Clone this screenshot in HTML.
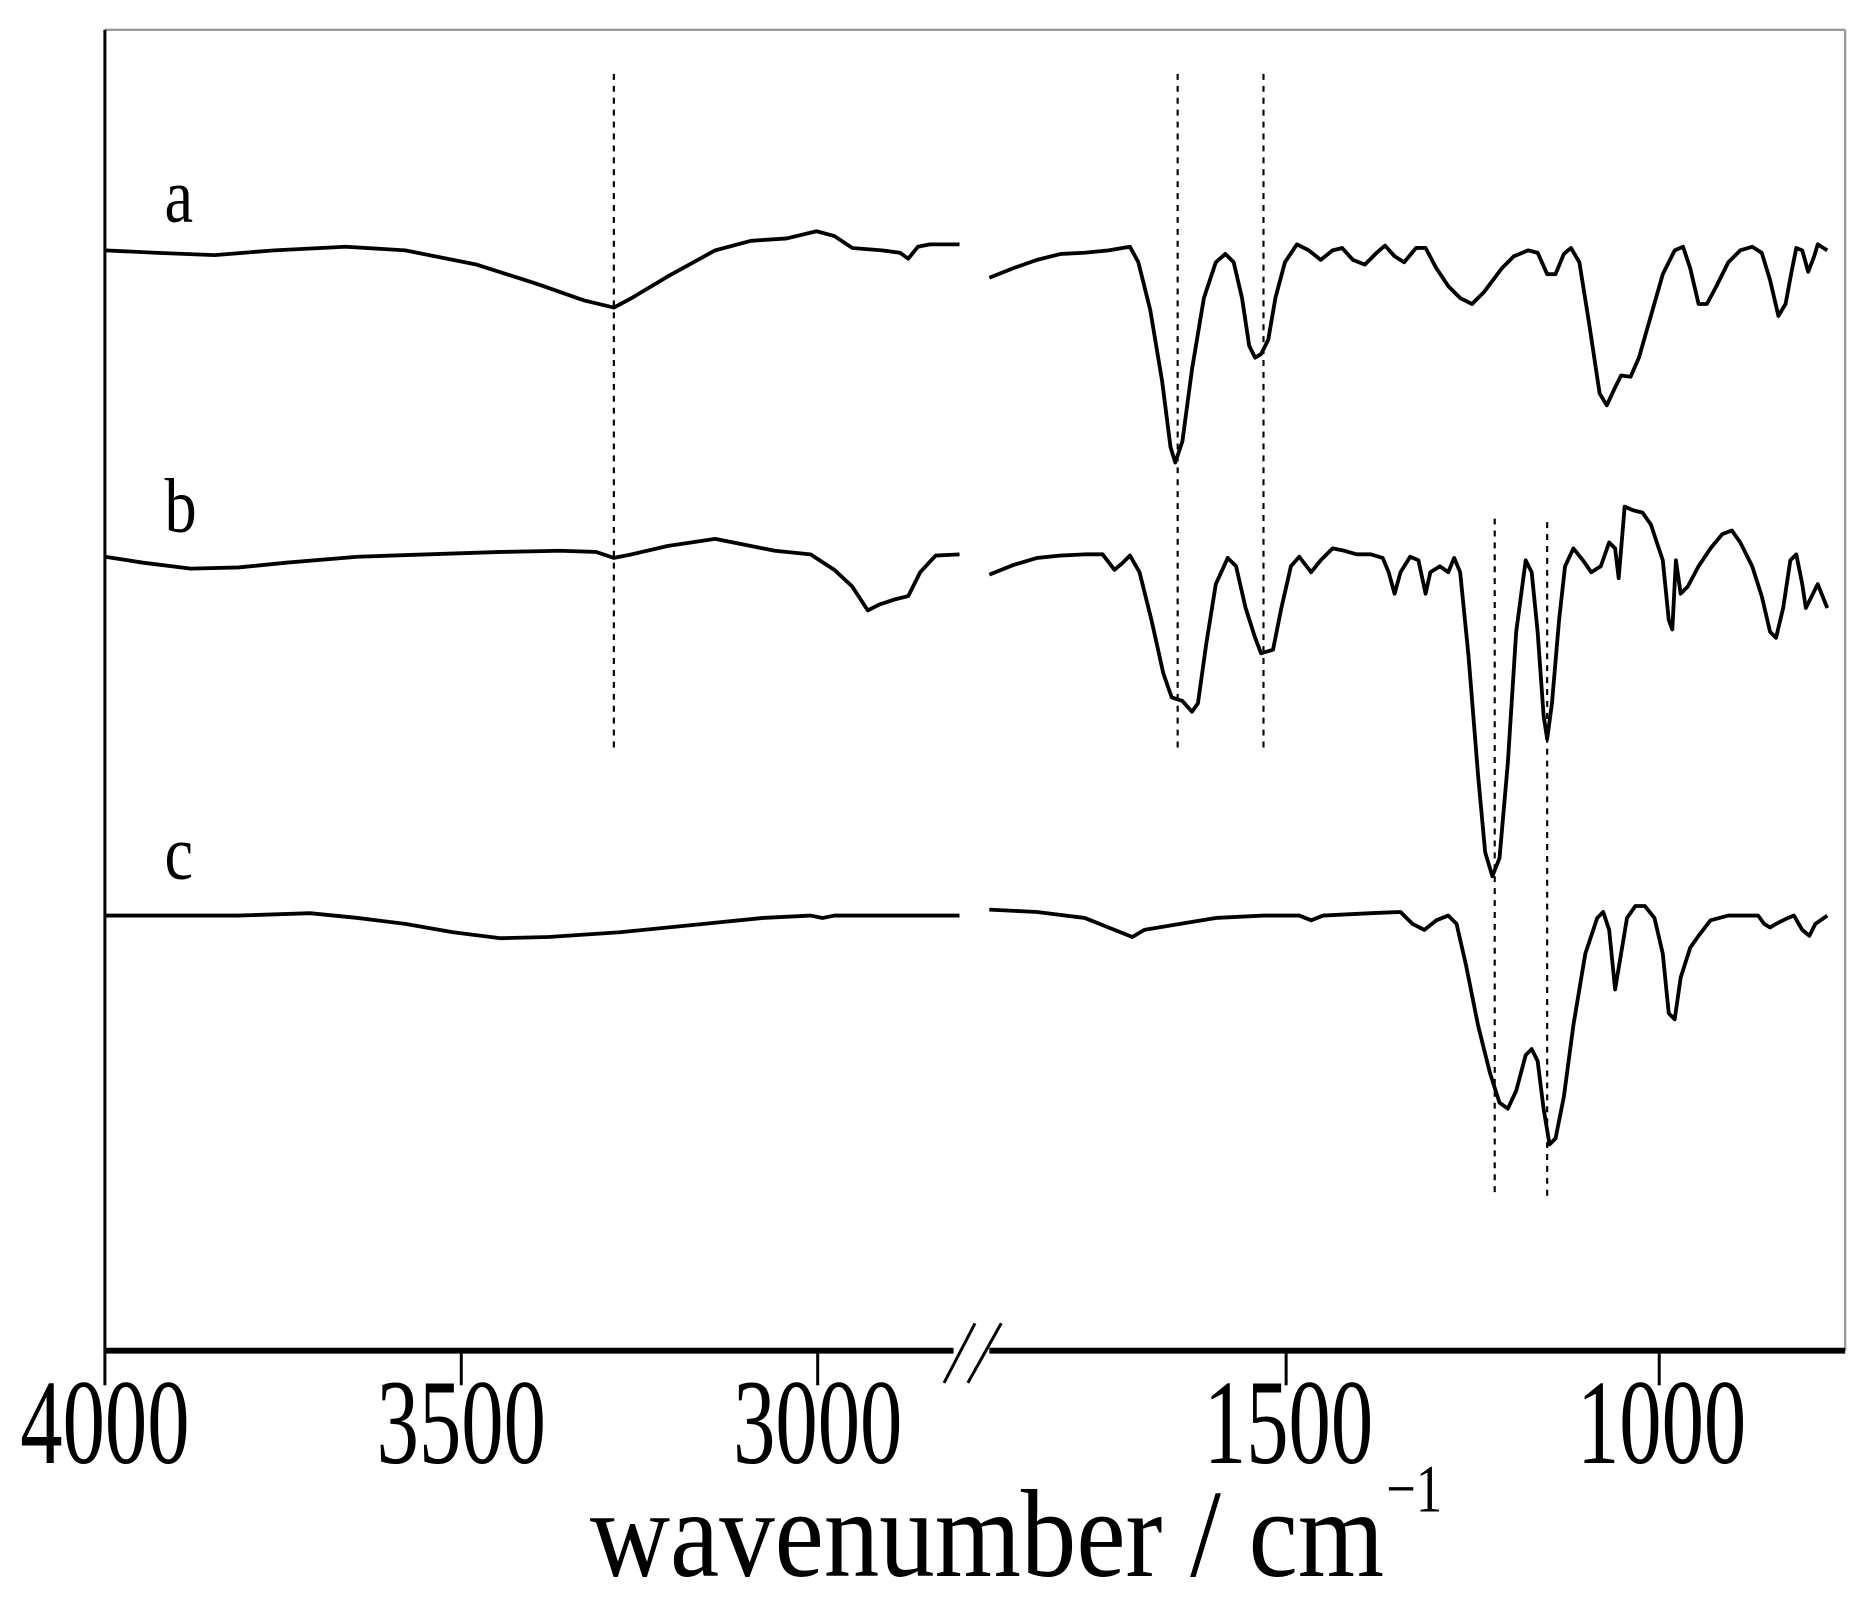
<!DOCTYPE html>
<html><head><meta charset="utf-8"><style>
html,body{margin:0;padding:0;background:#fff;}
svg{display:block;}
text{font-family:"Liberation Serif",serif;fill:#000;}
</style></head><body>
<svg width="1869" height="1607" viewBox="0 0 1568 1348" preserveAspectRatio="none" xmlns="http://www.w3.org/2000/svg">
<rect x="0" y="0" width="1568" height="1348" fill="#fff"/>
<line x1="88" y1="25" x2="1548" y2="25" stroke="#999" stroke-width="2"/>
<line x1="1548" y1="25" x2="1548" y2="1133" stroke="#999" stroke-width="2"/>
<line x1="88" y1="25" x2="88" y2="1135" stroke="#000" stroke-width="2.5"/>
<line x1="88" y1="1133" x2="1548" y2="1133" stroke="#000" stroke-width="5"/>
<rect x="800" y="1120" width="30" height="20" fill="#fff"/>
<line x1="792" y1="1160" x2="818" y2="1110" stroke="#000" stroke-width="2.5"/>
<line x1="812" y1="1160" x2="840" y2="1110" stroke="#000" stroke-width="2.5"/>
<g stroke="#000" stroke-width="2.5">
<line x1="88" y1="1133" x2="88" y2="1162"/>
<line x1="387" y1="1133" x2="387" y2="1162"/>
<line x1="686" y1="1133" x2="686" y2="1162"/>
<line x1="1079" y1="1133" x2="1079" y2="1162"/>
<line x1="1392" y1="1133" x2="1392" y2="1162"/>
</g>
<g font-size="71" text-anchor="middle">
<text transform="translate(88,1227) scale(1,1.43)">4000</text>
<text transform="translate(387,1227) scale(1,1.43)">3500</text>
<text transform="translate(686,1227) scale(1,1.43)">3000</text>
<text transform="translate(1081,1227) scale(1,1.43)">1500</text>
<text transform="translate(1394,1227) scale(1,1.43)">1000</text>
</g>
<text transform="translate(495,1322) scale(1,1.13)" font-size="93">wavenumber / cm</text>
<text transform="translate(1163,1268) scale(1,1.3)" font-size="44">−1</text>
<g font-size="54">
<text transform="translate(138,186) scale(1,1.2)">a</text>
<text transform="translate(138,446) scale(1,1.2)">b</text>
<text transform="translate(138,737) scale(1,1.2)">c</text>
</g>
<g stroke="#000" stroke-width="1.8" stroke-dasharray="5,5">
<line x1="515" y1="62" x2="515" y2="632"/>
<line x1="988" y1="62" x2="988" y2="632"/>
<line x1="1060" y1="62" x2="1060" y2="632"/>
<line x1="1254" y1="435" x2="1254" y2="1005"/>
<line x1="1298" y1="438" x2="1298" y2="1005"/>
</g>
<g fill="none" stroke="#000" stroke-width="3.2" stroke-linejoin="round">
<polyline points="88,210 130,212 180,214 230,210 290,207 340,210 400,222 450,238 490,252 515,258 530,250 560,232 600,210 630,202 660,200 685,194 700,198 715,208 740,210 755,212 762,217 770,207 780,205 805,205"/>
<polyline points="830,233 850,225 870,218 890,213 910,212 930,210 948,207 955,220 965,260 975,320 982,375 986,388 992,370 1000,310 1010,250 1020,220 1028,213 1035,220 1042,250 1048,290 1053,300 1058,297 1064,285 1070,250 1078,220 1088,205 1098,210 1108,218 1118,210 1126,208 1135,218 1145,222 1155,212 1162,206 1170,215 1178,220 1188,208 1196,208 1205,225 1215,240 1225,250 1235,255 1245,245 1260,225 1270,215 1282,210 1290,212 1298,230 1305,230 1312,213 1318,208 1325,220 1333,270 1342,330 1348,340 1355,325 1360,315 1368,316 1375,300 1385,265 1395,230 1405,210 1412,207 1418,225 1425,255 1432,255 1440,240 1450,220 1460,210 1470,207 1478,212 1485,235 1492,265 1498,255 1503,228 1507,208 1512,210 1517,228 1522,215 1525,205 1533,210"/>
<polyline points="88,467 120,472 160,477 200,476 240,472 300,467 360,465 420,463 470,462 500,463 515,468 530,465 560,458 600,452 630,458 650,462 680,465 700,478 715,492 728,512 738,507 750,503 762,500 772,480 785,466 805,465"/>
<polyline points="830,482 850,474 870,468 890,466 910,465 925,465 935,478 942,472 948,466 956,480 966,520 976,565 983,585 992,588 1000,597 1005,590 1012,540 1020,490 1030,468 1037,475 1045,510 1053,535 1058,548 1068,545 1075,510 1083,475 1090,467 1100,480 1108,470 1118,460 1128,462 1138,465 1150,465 1160,468 1165,480 1170,498 1175,480 1183,467 1190,470 1196,498 1200,480 1208,475 1215,480 1220,468 1225,480 1232,550 1240,650 1246,715 1252,735 1258,720 1265,640 1272,530 1280,470 1285,480 1290,530 1295,600 1298,620 1302,590 1308,520 1313,475 1320,460 1328,470 1335,480 1343,475 1350,455 1355,460 1358,485 1363,425 1370,428 1378,430 1385,440 1390,455 1395,470 1400,520 1403,528 1406,470 1410,498 1416,492 1425,475 1435,460 1445,448 1453,445 1460,455 1470,475 1478,500 1485,530 1490,535 1496,510 1502,470 1507,465 1512,490 1515,510 1520,500 1525,490 1533,510"/>
<polyline points="88,768 200,768 260,766 300,770 340,775 380,782 420,787 460,786 520,782 580,776 640,770 680,768 690,770 700,768 805,768"/>
<polyline points="830,763 870,765 910,770 935,780 950,786 960,780 990,775 1020,770 1060,768 1090,768 1100,772 1110,768 1150,766 1175,765 1185,775 1195,780 1205,772 1215,768 1222,775 1230,810 1240,860 1250,900 1258,925 1265,930 1272,915 1280,885 1285,880 1290,890 1295,930 1300,960 1305,955 1312,920 1320,860 1330,800 1340,770 1345,765 1350,780 1355,830 1360,800 1365,770 1372,760 1380,760 1388,770 1395,800 1400,850 1405,855 1410,820 1418,795 1425,785 1435,772 1450,768 1465,768 1475,768 1480,775 1485,778 1490,775 1500,770 1505,768 1512,780 1518,785 1523,775 1533,768"/>
</g>
</svg>
</body></html>
